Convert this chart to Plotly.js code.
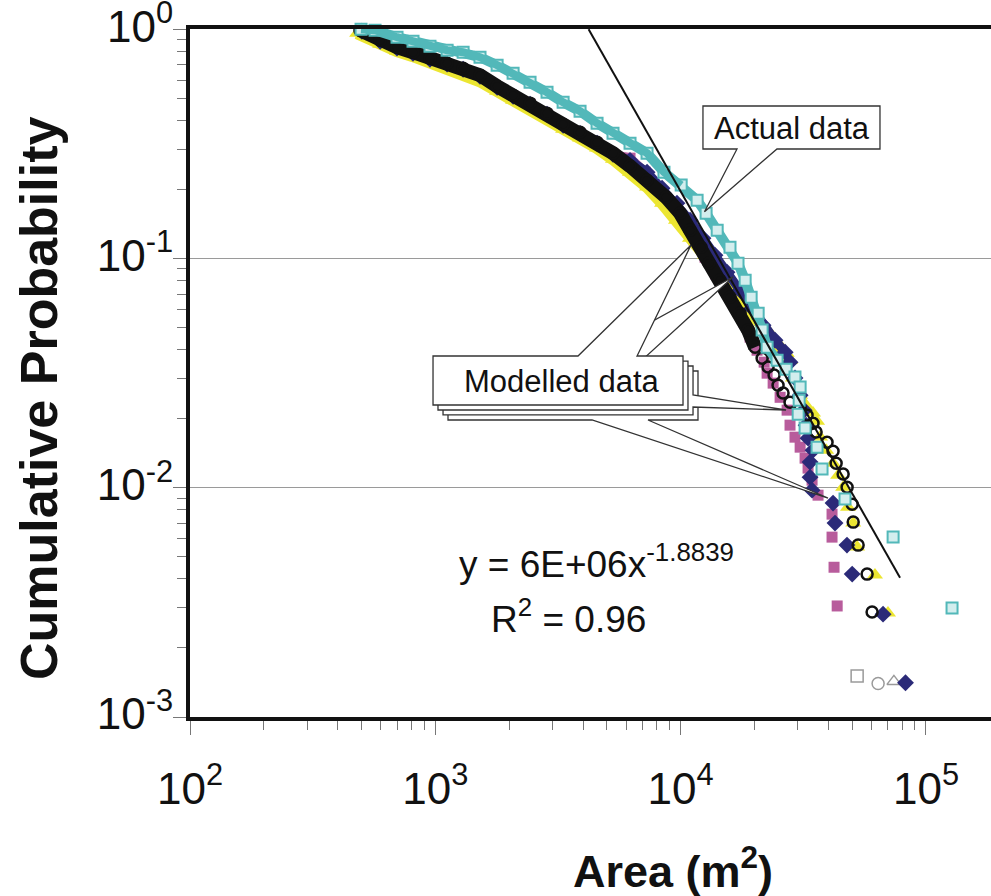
<!DOCTYPE html>
<html><head><meta charset="utf-8">
<script src="https://cdn.plot.ly/plotly-3.0.1.min.js"></script>
<style>html,body{margin:0;padding:0;background:#fff;overflow:hidden}#chart{width:991px;height:896px}</style>
</head><body><div id="chart"></div>
<script>
// ---- data ----
const actualX = [498, 568, 698, 811, 951, 1117, 1298, 1521, 1786, 2075, 2433, 2853, 3318, 3890, 4563, 5300, 6218, 7295, 8551, 10050, 11670, 12700, 14090, 15890, 17130, 18320, 19380, 20700, 21480, 22510, 24720, 26900, 29240, 30690, 30410, 30130, 32150, 35980, 37700, 46770, 73450, 127700];
const actualY = [1.0, 0.99, 0.923, 0.886, 0.843, 0.810, 0.794, 0.755, 0.697, 0.643, 0.587, 0.531, 0.480, 0.439, 0.389, 0.352, 0.318, 0.288, 0.238, 0.209, 0.1796, 0.1576, 0.1328, 0.112, 0.0954, 0.0804, 0.0678, 0.0577, 0.0487, 0.041, 0.036, 0.0329, 0.0304, 0.0275, 0.0241, 0.0209, 0.0182, 0.01503, 0.01206, 0.00892, 0.00609, 0.00299];

const circleX = [493, 596, 698, 811, 951, 1117, 1298, 1521, 1786, 2075, 2433, 2853, 3318, 3890, 4563, 5300, 6218, 7295, 8716, 9950, 10920, 12110, 13050, 14480, 15890, 17470, 18830, 20110, 21480, 22710, 24030, 24950, 26140, 27910, 30690, 32760, 34640, 35650, 39510, 41800, 43030, 45950, 47700, 50020, 50500, 52900, 57540, 60300];
const circleY = [0.99, 0.895, 0.835, 0.794, 0.747, 0.711, 0.676, 0.630, 0.564, 0.515, 0.476, 0.430, 0.385, 0.355, 0.321, 0.288, 0.253, 0.2196, 0.185, 0.1576, 0.1328, 0.112, 0.0954, 0.0804, 0.0678, 0.0577, 0.0487, 0.041, 0.0367, 0.0336, 0.031, 0.028, 0.0259, 0.0236, 0.0222, 0.0207, 0.0191, 0.0175, 0.0158, 0.01444, 0.0128, 0.01147, 0.01006, 0.00848, 0.00708, 0.00562, 0.0042, 0.00287];

const triangleX = [480, 596, 698, 811, 951, 1117, 1298, 1521, 1786, 2075, 2433, 2853, 3318, 3890, 4563, 5300, 6218, 7295, 8400, 9575, 10920, 12570, 14480, 16370, 18320, 20700, 23130, 25430, 27910, 28700, 30690, 32460, 34640, 35980, 37000, 39170, 41800, 43850, 45950, 48100, 50500, 52400, 61950, 70000];
const triangleY = [0.961, 0.860, 0.802, 0.763, 0.718, 0.676, 0.636, 0.593, 0.537, 0.490, 0.452, 0.409, 0.366, 0.335, 0.303, 0.271, 0.238, 0.205, 0.1743, 0.1469, 0.1226, 0.1034, 0.0889, 0.0749, 0.0638, 0.0538, 0.0463, 0.041, 0.036, 0.0301, 0.0253, 0.0229, 0.0212, 0.0195, 0.01663, 0.01459, 0.0128, 0.01135, 0.01006, 0.00823, 0.00701, 0.00551, 0.00416, 0.00284];

const diamondX = [502, 596, 698, 811, 951, 1117, 1298, 1521, 1786, 2075, 2433, 2853, 3318, 3890, 4563, 5300, 6218, 7295, 8400, 9660, 10920, 12330, 13800, 15450, 17470, 19540, 21670, 24260, 26670, 27910, 29240, 30690, 31870, 32460, 33060, 34640, 33680, 33680, 34330, 41800, 42580, 47640, 50020, 66830, 82500];
const diamondY = [0.98, 0.886, 0.827, 0.786, 0.740, 0.704, 0.669, 0.624, 0.558, 0.510, 0.471, 0.426, 0.381, 0.351, 0.318, 0.285, 0.268, 0.238, 0.2025, 0.1743, 0.1469, 0.1226, 0.1034, 0.0871, 0.0727, 0.0607, 0.0512, 0.044, 0.039, 0.0353, 0.0301, 0.0253, 0.0218, 0.01875, 0.01646, 0.01459, 0.01294, 0.01112, 0.00976, 0.00857, 0.00701, 0.00562, 0.0042, 0.00281, 0.00141];

const squareX = [502, 596, 698, 811, 951, 1117, 1298, 1521, 1786, 2075, 2433, 2853, 3318, 3890, 4563, 5300, 6218, 7166, 8245, 9310, 10320, 11350, 12570, 13930, 15450, 16980, 18130, 19180, 20480, 21890, 22510, 23820, 25430, 27160, 27910, 29240, 30690, 32150, 33060, 34330, 36310, 41400, 41400, 42190, 43450];
const squareY = [0.98, 0.886, 0.827, 0.786, 0.740, 0.704, 0.669, 0.624, 0.558, 0.510, 0.471, 0.426, 0.381, 0.351, 0.318, 0.285, 0.274, 0.238, 0.1985, 0.1674, 0.144, 0.1202, 0.1013, 0.0854, 0.0727, 0.0613, 0.0528, 0.0454, 0.0398, 0.0353, 0.0316, 0.0286, 0.0248, 0.0218, 0.01875, 0.01662, 0.01503, 0.01346, 0.01218, 0.01079, 0.00928, 0.00767, 0.00609, 0.0045, 0.00305];

// lowest points drawn as pale outlines (square, circle, triangle runs)
const lowestX = [52400, 63800, 74000];
const lowestY = [0.00151, 0.0014, 0.00143];

// power-law trend line end points
const fitX = [4214, 78400];
const fitY = [1.0, 0.00405];

// ticks
const xTickVals = [100, 1000, 10000, 100000];
const xTickText = ['10<sup>2</sup>', '10<sup>3</sup>', '10<sup>4</sup>', '10<sup>5</sup>'];
const yTickVals = [0.001, 0.01, 0.1, 1];
const yTickText = ['10<sup>-3</sup>', '10<sup>-2</sup>', '10<sup>-1</sup>', '10<sup>0</sup>'];
const xMinorVals = [200,300,400,500,600,700,800,900,2000,3000,4000,5000,6000,7000,8000,9000,20000,30000,40000,50000,60000,70000,80000,90000,200000];
const yMinorVals = [0.002,0.003,0.004,0.005,0.006,0.007,0.008,0.009,0.02,0.03,0.04,0.05,0.06,0.07,0.08,0.09,0.2,0.3,0.4,0.5,0.6,0.7,0.8,0.9];

// ---- styling ----
const FONT = 'Liberation Sans, Arial, Helvetica, sans-serif';
const C_TEAL = '#52B8B9', C_TEAL_FILL = '#D3EEEE';
const C_MAG = '#B85C9C', C_NAVY = '#2B2A78', C_YEL = '#ECE631', C_BLK = '#111111';

function band(x, y, n, color, width) {
  return {x: x.slice(0, n), y: y.slice(0, n), mode: 'lines', type: 'scatter',
          line: {color: color, width: width}, hoverinfo: 'skip', cliponaxis: false, showlegend: false};
}
function pts(x, y, marker) {
  return {x: x, y: y, mode: 'markers', type: 'scatter', marker: marker,
          hoverinfo: 'skip', cliponaxis: false, showlegend: false};
}

const traces = [
  band(squareX, squareY, 28, C_MAG, 9),
  pts(squareX, squareY, {symbol: 'square', size: 11, color: C_MAG}),
  band(triangleX, triangleY, 29, C_YEL, 12),
  pts(triangleX, triangleY, {symbol: 'triangle-up', size: 14, color: C_YEL}),
  pts(lowestX, lowestY, {symbol: ['square-open', 'circle-open', 'triangle-up-open'], size: 12,
      color: '#9a9a9a', line: {width: 1.5, color: '#9a9a9a'}}),
  band(diamondX, diamondY, 29, C_NAVY, 9),
  pts(diamondX, diamondY, {symbol: 'diamond', size: 13, color: C_NAVY}),
  band(circleX, circleY, 28, C_BLK, 14),
  pts(circleX, circleY, {symbol: 'circle-open', size: 11, color: C_BLK, line: {width: 2.5, color: C_BLK}}),
  band(actualX, actualY, 31, C_TEAL, 10),
  pts(actualX, actualY, {symbol: 'square', size: 11, color: C_TEAL_FILL, line: {width: 2, color: C_TEAL}}),
  band(actualX, actualY, 20, C_TEAL, 8),
  {x: fitX, y: fitY, mode: 'lines', type: 'scatter', line: {color: '#111', width: 2}, hoverinfo: 'skip', showlegend: false}
];

// pixel -> paper helper for decorative callouts (plot area 190..991 x 29..717)
function P(x, y) { return ((x - 190) / 801).toFixed(4) + ',' + ((717 - y) / 688).toFixed(4); }
function path(list) { return 'M' + list.map(p => P(p[0], p[1])).join('L') + 'Z'; }
const boxLine = {color: '#333', width: 1.3};
function callout(list) {
  return {type: 'path', xref: 'paper', yref: 'paper', path: path(list), fillcolor: '#fff', line: boxLine, layer: 'above'};
}
const shapes = [
  callout([[448,371],[698,371],[698,420],[648,420],[828,498],[592,420],[448,420]]),
  callout([[443,366],[693,366],[693,395],[786,410],[693,407],[693,415],[443,415]]),
  callout([[438,361],[580,361],[733,277],[641,361],[688,361],[688,410],[438,410]]),
  callout([[433,356],[578,356],[691,245],[637,356],[683,356],[683,405],[433,405]]),
  callout([[703,106],[880,106],[880,149],[777,149],[704.5,211.7],[737,149],[703,149]])
];

function ann(text, px, py, size, opts) {
  return Object.assign({text: text, xref: 'paper', yref: 'paper', x: (px - 190) / 801, y: (717 - py) / 688,
    showarrow: false, xanchor: 'center', yanchor: 'middle', font: {family: FONT, size: size, color: '#111'}}, opts || {});
}
const annotations = [
  ann('Actual data', 791.5, 128, 31),
  ann('Modelled data', 562, 381, 31),
  ann('y = 6E+06x<sup>-1.8839</sup>', 457, 561, 37, {xanchor: 'left'}),
  ann('R<sup>2</sup> = 0.96', 489, 616, 37, {xanchor: 'left'}),
  ann('Area (m<sup>2</sup>)', 673, 868, 45, {font: {family: FONT, size: 45, color: '#111', weight: 700}}),
  ann('Cumulative Probability', 39, 398, 52, {textangle: -90, font: {family: FONT, size: 52, color: '#111', weight: 700}})
];

const layout = {
  width: 991, height: 896, autosize: false,
  margin: {l: 190, r: 0, t: 29, b: 179, pad: 0},
  paper_bgcolor: '#fff', plot_bgcolor: '#fff',
  showlegend: false,
  font: {family: FONT, color: '#111'},
  xaxis: {
    type: 'log', range: [2, 5.265], showline: true, linewidth: 4, linecolor: '#111', mirror: true,
    showgrid: false, zeroline: false, ticks: 'outside', ticklen: 14, tickwidth: 1, tickcolor: '#777',
    tickmode: 'array', tickvals: xTickVals, ticktext: xTickText, ticklabelstandoff: 16, ticklabeloverflow: 'allow',
    tickfont: {family: FONT, size: 44, color: '#111'},
    minor: {tickmode: 'array', tickvals: xMinorVals, ticks: 'outside', ticklen: 9, tickwidth: 1, tickcolor: '#777', showgrid: false}
  },
  yaxis: {
    type: 'log', range: [-3, 0.001], showline: true, linewidth: 4, linecolor: '#111', mirror: false,
    showgrid: true, gridcolor: '#9a9a9a', gridwidth: 1, zeroline: false,
    ticks: 'outside', ticklen: 13, tickwidth: 1, tickcolor: '#777',
    tickmode: 'array', tickvals: yTickVals, ticktext: yTickText, ticklabelstandoff: -9, ticklabeloverflow: 'allow',
    ticklabelshift: -3,
    tickfont: {family: FONT, size: 44, color: '#111'},
    minor: {tickmode: 'array', tickvals: yMinorVals, ticks: 'outside', ticklen: 9, tickwidth: 1, tickcolor: '#777', showgrid: false}
  },
  shapes: shapes,
  annotations: annotations
};

Plotly.newPlot('chart', traces, layout, {displayModeBar: false, staticPlot: true});
</script></body></html>
